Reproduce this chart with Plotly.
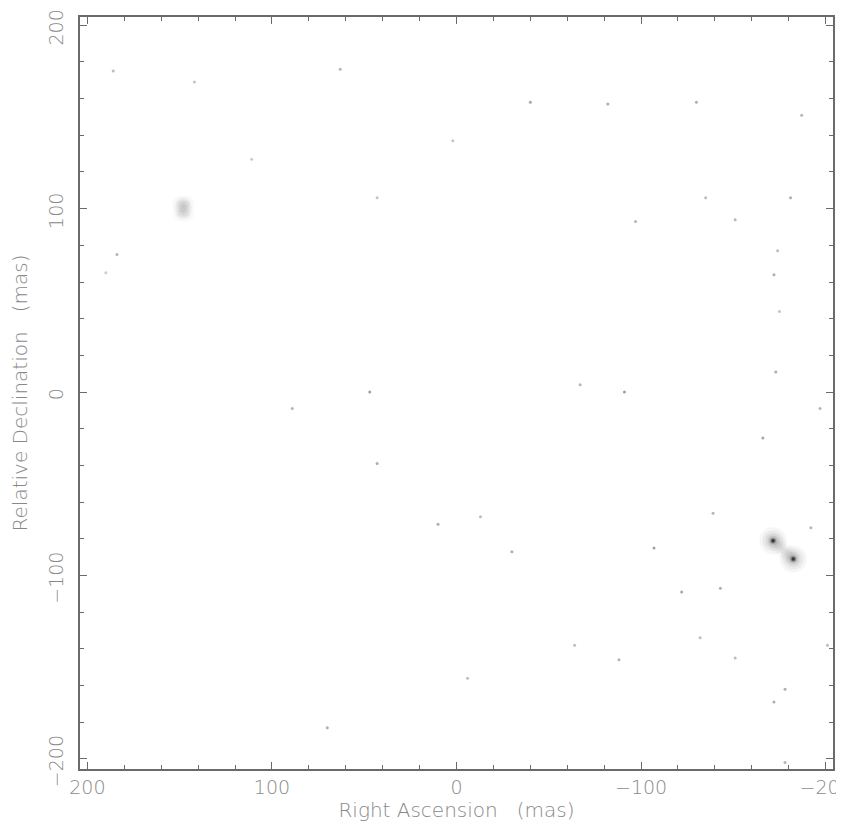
import plotly.graph_objects as go

# Faint isolated specks (RA offset, Dec offset in mas)
speck_ra = [186, 142, 63, 111, 2, -40, -82, -130, -187, 43, -97, -135, -151, -181,
            -174, -172, -175, 184, 190, 89, 47, -67, -91, -173, -197, -166, 43, 10,
            -13, -30, -107, -139, -192, -122, -143, -132, -64, -88, -151, -201, -6,
            70, -178, -172, -178]
speck_dec = [175, 169, 176, 127, 137, 158, 157, 158, 151, 106, 93, 106, 94, 106,
             77, 64, 44, 75, 65, -9, 0, 4, 0, 11, -9, -25, -39, -72,
             -68, -87, -85, -66, -74, -109, -107, -134, -138, -146, -145, -138, -156,
             -183, -162, -169, -202]
speck_level = [0.35, 0.3, 0.4, 0.25, 0.3, 0.5, 0.45, 0.45, 0.4, 0.3, 0.4, 0.35, 0.4, 0.45,
               0.35, 0.45, 0.3, 0.4, 0.25, 0.4, 0.55, 0.4, 0.55, 0.45, 0.4, 0.5, 0.45, 0.45,
               0.35, 0.45, 0.55, 0.4, 0.4, 0.5, 0.45, 0.35, 0.35, 0.4, 0.35, 0.35, 0.35,
               0.45, 0.45, 0.45, 0.4]

# Extended emission components (RA, Dec, relative peak brightness)
comp_ra = [149.5, 146.5, 148, 149.5, 146.5, -171.5, -174.5, -177.5, -180.5, -182.5]
comp_dec = [102.5, 102.5, 100, 97.5, 97.5, -81, -83.5, -86.5, -89, -91]
comp_peak = [0.5, 0.5, 0.55, 0.45, 0.45, 1.0, 0.5, 0.35, 0.5, 0.95]

x_ticks = [200, 100, 0, -100, -200]
y_ticks = [-200, -100, 0, 100, 200]

fig = go.Figure()

def grey(level, alpha):
    v = int(235 - 225 * level)
    return f"rgba({v},{v},{v},{alpha})"

# layered rendering of extended components: soft halo -> core
layers = [(27, 0.07), (21, 0.09), (15, 0.13), (10, 0.2), (6, 0.4), (3.5, 0.9)]
for size, alpha in layers:
    cols = []
    sizes = []
    for p in comp_peak:
        faint = p < 0.6
        s = size * (0.65 if faint else 1.0)
        a = alpha * (0.7 if faint else 1.0)
        if faint and size <= 6:
            a = 0.0
        lvl = 1.0 if (p >= 0.6 and size <= 6) else p * 0.75
        cols.append(grey(lvl, a))
        sizes.append(s)
    fig.add_trace(go.Scatter(
        x=comp_ra, y=comp_dec, mode="markers", hoverinfo="skip",
        marker=dict(size=sizes, color=cols, line=dict(width=0)),
        showlegend=False))

fig.add_trace(go.Scatter(
    x=speck_ra, y=speck_dec, mode="markers", hoverinfo="skip",
    marker=dict(size=3, color=[grey(l * 0.8, 0.8) for l in speck_level], line=dict(width=0)),
    showlegend=False))

font = dict(family="DejaVu Sans", size=20, color="#888", weight=200)
tfont = dict(family="DejaVu Sans", size=19, color="#888", weight=200)

axis_common = dict(
    showgrid=False, zeroline=False, showline=True, linecolor="#6a6a6a", linewidth=1.5,
    mirror="ticks", ticks="inside", ticklen=7, tickwidth=1.2, tickcolor="#6a6a6a",
    tickfont=tfont, ticklabeloverflow="allow",
    minor=dict(dtick=20, ticks="inside", ticklen=4, tickwidth=1, tickcolor="#6a6a6a"),
    automargin=False,
)

fig.update_layout(
    width=836, height=824,
    margin=dict(l=72, r=11, t=9, b=63),
    paper_bgcolor="white", plot_bgcolor="white",
    xaxis=dict(range=[204, -204], tickvals=x_ticks,
               ticktext=[str(v).replace("-", "\u2212") for v in x_ticks],
               title=dict(text="Right Ascension   (mas)", standoff=4, font=font),
               **axis_common),
    yaxis=dict(range=[-205.5, 204.5], tickvals=y_ticks,
               ticktext=[str(v).replace("-", "\u2212") for v in y_ticks],
               tickangle=-90, ticklabelstandoff=8, ticklabelshift=5,
               title=dict(text="Relative Declination   (mas)", standoff=18, font=font),
               **axis_common),
)

fig.write_html("out.html")
